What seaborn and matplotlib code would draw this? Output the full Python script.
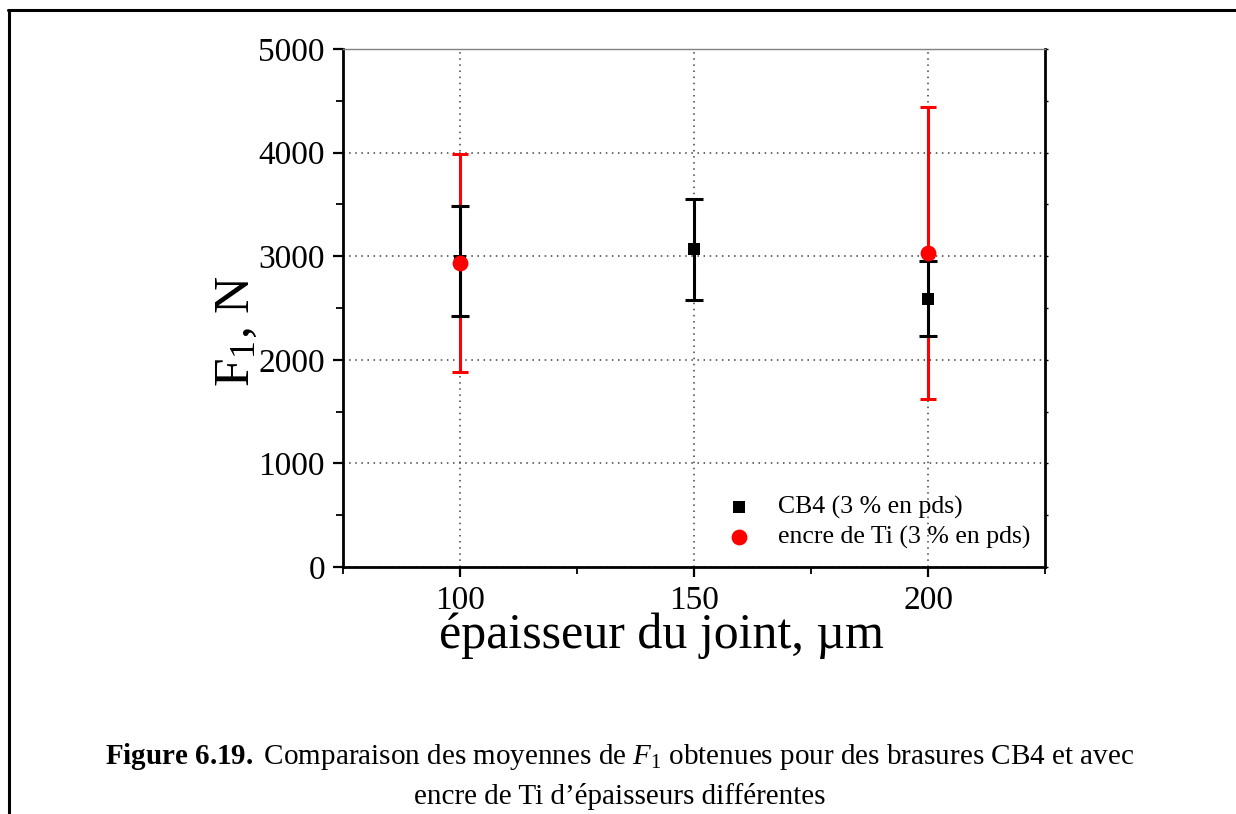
import matplotlib
matplotlib.use("Agg")
import matplotlib.pyplot as plt
import seaborn as sns
import pandas as pd
from matplotlib.lines import Line2D

# ---- data ----
cb4_x = [100, 150, 200]
cb4_mean = [2955, 3065, 2588]
cb4_err = [530, 488, 363]
ti_x = [100, 200]
ti_mean = [2933, 3030]
ti_err = [1055, 1407]
cb4_label = "CB4 (3 % en pds)"
ti_label = "encre de Ti (3 % en pds)"
x_ticks = [100, 150, 200]
y_ticks = [0, 1000, 2000, 3000, 4000, 5000]

sns.set_theme(style="ticks")
plt.rcParams["font.family"] = ["Liberation Serif", "DejaVu Serif"]
plt.rcParams["mathtext.fontset"] = "custom"
plt.rcParams["mathtext.rm"] = "Liberation Serif"
plt.rcParams["mathtext.it"] = "Liberation Serif:italic"
plt.rcParams["mathtext.bf"] = "Liberation Serif:bold"
plt.rcParams["text.color"] = "black"
plt.rcParams["axes.labelcolor"] = "black"
plt.rcParams["xtick.color"] = "black"
plt.rcParams["ytick.color"] = "black"

fig = plt.figure(figsize=(12.36, 8.14), dpi=100)
ax = fig.add_axes([343/1236, 1-567/814, (1045-343)/1236, (567-49)/814])

df_cb4 = pd.DataFrame({"x": cb4_x, "y": cb4_mean})
df_ti = pd.DataFrame({"x": ti_x, "y": ti_mean})

ax.errorbar(ti_x, ti_mean, yerr=ti_err, fmt="none", ecolor="#ff0000",
            elinewidth=2.2, capsize=6, capthick=2.2, zorder=3)
ax.errorbar(cb4_x, cb4_mean, yerr=cb4_err, fmt="none", ecolor="black",
            elinewidth=2.2, capsize=6.5, capthick=2.2, zorder=4)
sns.scatterplot(data=df_cb4, x="x", y="y", marker="s", color="black", s=70,
                edgecolor="black", linewidth=0, ax=ax, zorder=5, label=cb4_label)
sns.scatterplot(data=df_ti, x="x", y="y", marker="o", color="#ff0000", s=130,
                edgecolor="#ff0000", linewidth=0, ax=ax, zorder=6, label=ti_label)

ax.set_xlim(75, 225)
ax.set_ylim(0, 5000)
ax.set_xticks(x_ticks)
ax.set_yticks(y_ticks)
ax.set_xticks([75, 125, 175, 225], minor=True)
ax.set_yticks([500, 1500, 2500, 3500, 4500], minor=True)
ax.tick_params(axis="both", which="major", direction="out", length=7, width=1.6,
               labelsize=24, pad=6, colors="black")
ax.tick_params(axis="both", which="minor", direction="out", length=5, width=1.3)
ax.tick_params(axis="y", which="both", right=True)
for t in ax.yaxis.get_major_ticks() + ax.yaxis.get_minor_ticks():
    t.tick2line.set_markersize(2.5)
    t.tick2line.set_markeredgewidth(1.0)
ax.grid(True, which="major", linestyle=(0, (1, 3)), color="0.25", linewidth=1.1)

for side in ["left", "bottom", "right"]:
    ax.spines[side].set_color("black")
    ax.spines[side].set_linewidth(2)
ax.spines["top"].set_color("0.5")
ax.spines["top"].set_linewidth(1)

ax.set_xlabel("épaisseur du joint, µm", fontsize=36)
ax.set_ylabel(r"F$_{\mathregular{1}}$, N", fontsize=37)
ax.xaxis.set_label_coords(0.453, -0.088)
ax.yaxis.set_label_coords(-0.118, 0.455)

leg = ax.legend(loc="lower right", bbox_to_anchor=(1.012, -0.01), frameon=False,
                fontsize=18.5, handletextpad=0.5, labelspacing=0.25,
                markerscale=1.0)

# caption
fig.text(620/1236, 1-757/814,
         r"$\mathbf{Figure\ 6.19.\ }$Comparaison des moyennes de $F_1$ obtenues pour des brasures CB4 et avec",
         fontsize=21, ha="center", va="center")
fig.text(620/1236, 1-797/814, "encre de Ti d’épaisseurs différentes",
         fontsize=21, ha="center", va="center")

# page frame
fig.add_artist(Line2D([8/1236, 1.0], [1-10/814, 1-10/814], color="black", lw=2.2,
                      transform=fig.transFigure))
fig.add_artist(Line2D([9/1236, 9/1236], [0, 1-10/814], color="black", lw=2.2,
                      transform=fig.transFigure))

fig.savefig("out.png", dpi=100)
